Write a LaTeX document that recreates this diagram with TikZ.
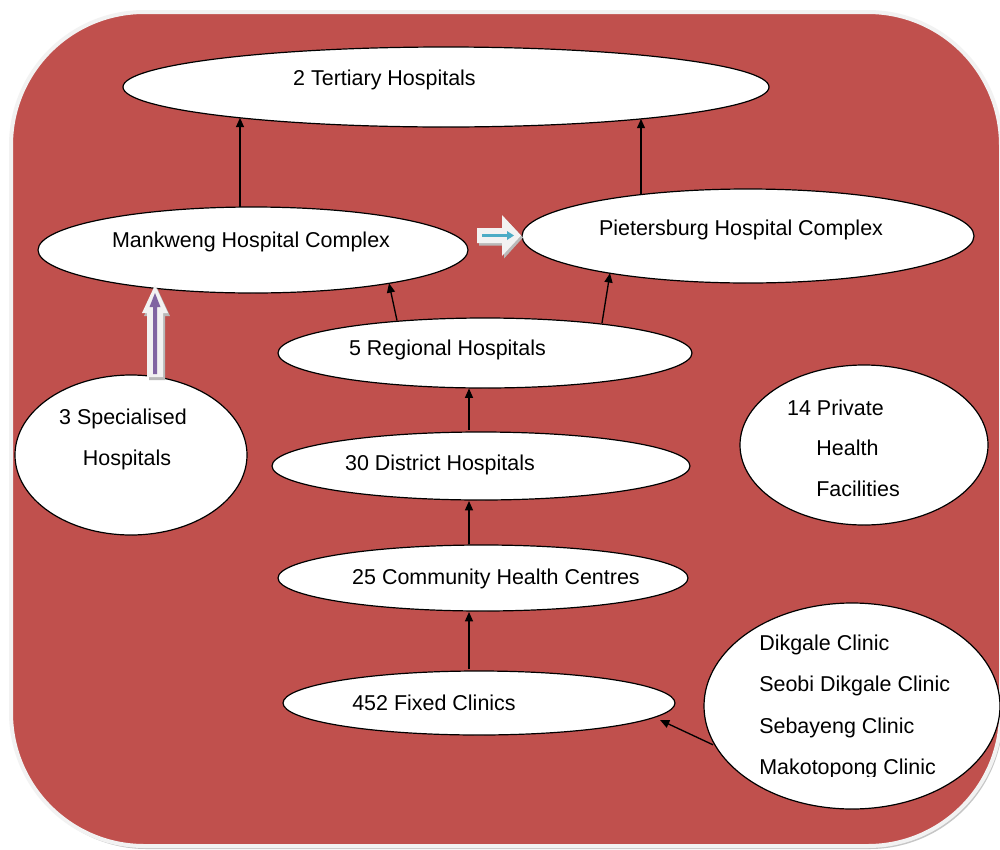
\documentclass[tikz,border=0pt]{standalone}
\usepackage{fontspec}
\setmainfont{Liberation Sans}
\usetikzlibrary{shapes.geometric,arrows.meta,calc}
\definecolor{bgred}{HTML}{C0504D}
\definecolor{rimgrey}{HTML}{F2F2F2}
\definecolor{purp}{HTML}{8064A2}
\definecolor{aqua}{HTML}{4BACC6}
\tikzset{
  oval/.style={ellipse, draw=black, line width=0.9pt, fill=white, inner sep=0pt},
  lbl/.style={anchor=base, inner sep=0pt, font=\fontsize{16.1}{19}\selectfont},
  lblw/.style={anchor=base west, inner sep=0pt, font=\fontsize{16.1}{19}\selectfont},
  arr/.style={draw=black, line width=1pt, -{Triangle[length=7pt,width=6pt]}},
}
\begin{document}
\begin{tikzpicture}[x=0.75pt,y=-0.75pt]
\useasboundingbox (0,0) rectangle (1000,850);
\clip (0,0) rectangle (1000,850);
\fill[white] (0,0) rectangle (1000,850);
% background panel
\fill[gray!45, rounded corners=100pt] (13,15) rectangle (1003,849);
\draw[fill=bgred, draw=rimgrey, line width=3pt, rounded corners=100pt] (11,12) rectangle (1001,846);

% ellipses
\node[oval, minimum width=484.5pt, minimum height=60pt] (ter) at (446,87) {};
\node[oval, minimum width=322.5pt, minimum height=64.5pt] (mank) at (253,250) {};
\node[oval, minimum width=339pt, minimum height=70.5pt] (piet) at (748,236) {};
\node[oval, minimum width=310.5pt, minimum height=52.5pt] (reg) at (485,353) {};
\node[oval, minimum width=174pt, minimum height=120pt] (spec) at (131,455) {};
\node[oval, minimum width=313.5pt, minimum height=51pt] (dist) at (481,466) {};
\node[oval, minimum width=186pt, minimum height=120pt] (priv) at (864,445) {};
\node[oval, minimum width=307.5pt, minimum height=49.5pt] (comm) at (483,578) {};
\node[oval, minimum width=294pt, minimum height=48pt] (fix) at (479,703) {};
\node[oval, minimum width=222pt, minimum height=154.5pt] (clin) at (852,706) {};

% texts
\node[lbl] (tTer) at (384.5,85) {2 Tertiary Hospitals};
\node[lbl] (tMank) at (251,247) {Mankweng Hospital Complex};
\node[lbl] (tPiet) at (741,235) {Pietersburg Hospital Complex};
\node[lbl] (tReg) at (447.5,355) {5 Regional Hospitals};
\node[lbl] (tSpecA) at (123,424) {3 Specialised};
\node[lbl] (tSpecB) at (127,465) {Hospitals};
\node[lbl] (tDist) at (440,470) {30 District Hospitals};
\node[lbl] (tPrivA) at (835.5,415) {14 Private};
\node[lbl] (tPrivB) at (847.5,455) {Health};
\node[lbl] (tPrivC) at (858,496) {Facilities};
\node[lbl] (tComm) at (496,584) {25 Community Health Centres};
\node[lbl] (tFix) at (434,710) {452 Fixed Clinics};
\node[lblw] (tClA) at (759,650) {Dikgale Clinic};
\node[lblw] (tClB) at (759,691) {Seobi Dikgale Clinic};
\node[lblw] (tClC) at (759,733) {Sebayeng Clinic};
\begin{scope}
\clip (700,700) rectangle (1000,776);
\node[lblw] (tClD) at (759,774) {Makotopong Clinic};
\end{scope}

% connectors (end points on the ellipse borders, offsets from the centres)
\draw[arr] ($(mank.center)+(-13,-43)$) -- ($(ter.center)+(-206,30.8)$);
\draw[arr] ($(piet.center)+(-107,-41.4)$) -- ($(ter.center)+(195,31.9)$);
\draw[arr] ($(reg.center)+(-88,-32.5)$) -- ($(mank.center)+(136,33.3)$);
\draw[arr] ($(reg.center)+(117,-30)$) -- ($(piet.center)+(-138,37.2)$);
\draw[arr] ($(dist.center)+(-12,-36)$) -- ($(reg.center)+(-16,35.5)$);
\draw[arr] ($(comm.center)+(-14,-34)$) -- ($(dist.center)+(-12,35)$);
\draw[arr] ($(fix.center)+(-10,-34)$) -- ($(comm.center)+(-14,34)$);
\draw[arr] ($(clin.center)+(-139,38.8)$) -- ($(fix.center)+(181,17)$);

% block arrow up (specialised -> Mankweng)
\fill[gray!55] (149,380) -- (149,316) -- (144,316) -- (157,288) -- (170,316) -- (165,316) -- (165,380) -- cycle;
\fill[rimgrey] (147,377) -- (147,313) -- (142,313) -- (155,285) -- (168,313) -- (163,313) -- (163,377) -- cycle;
\fill[purp] (153,374) -- (153,307) -- (149.5,307) -- (155,293) -- (160.5,307) -- (157,307) -- (157,374) -- cycle;

% block arrow right (Mankweng -> Pietersburg)
\fill[gray!55] (479,230.5) -- (504,230.5) -- (504,217.5) -- (523,237.5) -- (504,258.5) -- (504,245.5) -- (479,245.5) -- cycle;
\fill[rimgrey] (477,228) -- (502,228) -- (502,215) -- (521,235.5) -- (502,256) -- (502,243) -- (477,243) -- cycle;
\fill[aqua] (482,234.2) -- (507,234.2) -- (507,231) -- (514,235.5) -- (507,240) -- (507,236.8) -- (482,236.8) -- cycle;
\end{tikzpicture}
\end{document}
